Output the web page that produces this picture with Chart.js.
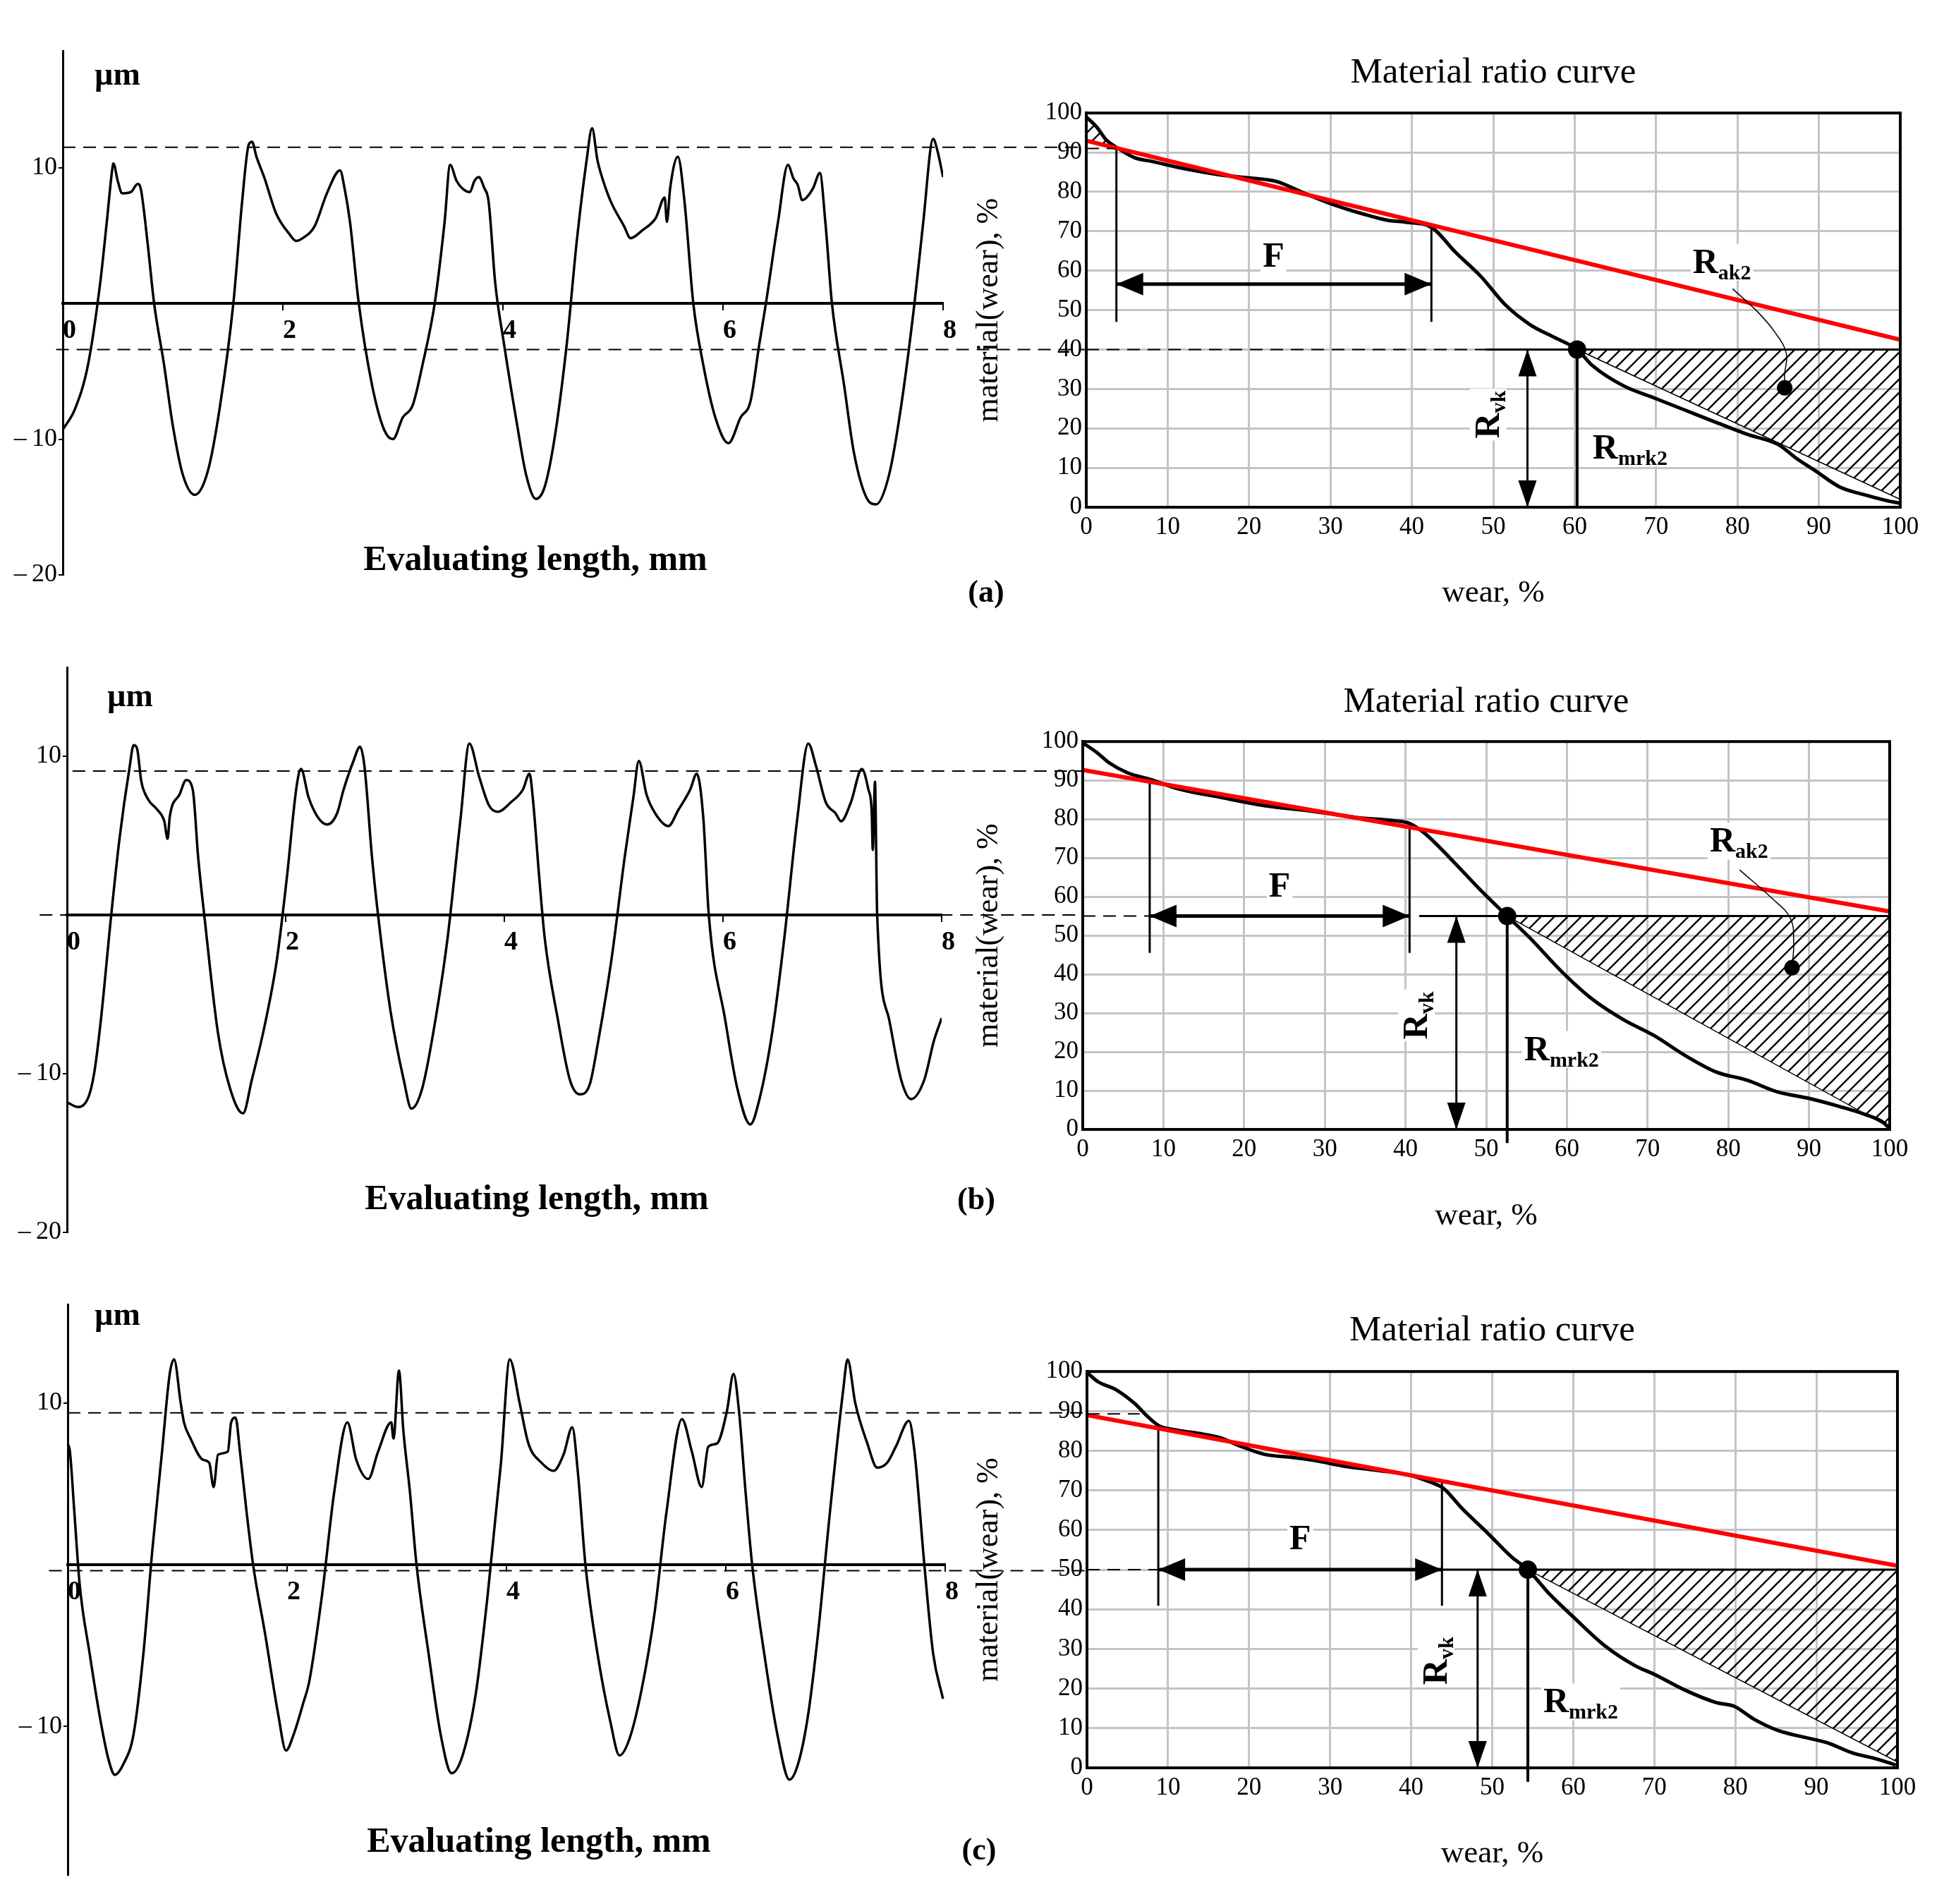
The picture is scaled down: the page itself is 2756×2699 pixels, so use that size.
<!DOCTYPE html>
<html>
<head>
<meta charset="utf-8">
<title>Profile and material ratio curves</title>
<script src="https://cdn.jsdelivr.net/npm/chart.js@4.4.1/dist/chart.umd.min.js"></script>
<style>
  html, body { margin: 0; padding: 0; background: #fff; }
  #page { position: relative; width: 2756px; height: 2699px; background: #fff; overflow: hidden; }
  #page canvas { position: absolute; }
</style>
</head>
<body>
<div id="page"></div>
<script>
// ---------- profile traces: [evaluating length mm, height µm] ----------
const profileA = [[0,-9.3],[0.11,-7.8],[0.23,-4.5],[0.34,1.5],[0.4,6],[0.45,9.9],[0.46,10.3],[0.5,9.0],[0.54,8.1],[0.62,8.2],[0.68,8.8],[0.71,8.4],[0.77,4.5],[0.83,0],[0.92,-4.5],[1.0,-9],[1.09,-12.6],[1.2,-14.1],[1.32,-12.3],[1.43,-7.5],[1.55,0],[1.63,7.5],[1.69,11.7],[1.72,11.9],[1.76,10.8],[1.83,9.3],[1.94,6.6],[2.06,5.1],[2.12,4.6],[2.18,4.8],[2.29,5.7],[2.4,8.1],[2.52,9.8],[2.56,8.5],[2.61,6],[2.69,0],[2.81,-6],[2.92,-9.3],[3.0,-10],[3.09,-8.4],[3.18,-7.5],[3.27,-4.5],[3.38,0],[3.47,6],[3.52,10.2],[3.58,9],[3.64,8.4],[3.7,8.2],[3.74,9.0],[3.78,9.3],[3.83,8.5],[3.87,7.5],[3.93,1.5],[4.01,-3],[4.13,-9],[4.21,-12.6],[4.3,-14.4],[4.38,-13.5],[4.47,-9.9],[4.58,-3],[4.67,4.5],[4.76,10.5],[4.81,12.9],[4.86,10.5],[4.9,9.3],[4.98,7.5],[5.1,5.7],[5.16,4.8],[5.27,5.4],[5.39,6.3],[5.47,7.8],[5.49,6.0],[5.52,8.5],[5.59,10.8],[5.65,7.5],[5.73,0],[5.82,-4.5],[5.93,-8.4],[6.05,-10.3],[6.16,-8.4],[6.25,-7.2],[6.33,-3],[6.39,0],[6.5,6],[6.59,10.2],[6.64,9.2],[6.68,8.7],[6.72,7.6],[6.76,7.8],[6.82,8.5],[6.88,9.6],[6.93,6],[6.99,0],[7.1,-6],[7.19,-11],[7.31,-14.4],[7.39,-14.8],[7.51,-12.6],[7.62,-7.5],[7.74,0],[7.82,6],[7.91,12.1],[7.95,11.2],[8.0,9.3]];
const profileB = [[0,-11.8],[0.1,-12.1],[0.2,-11.4],[0.25,-9.9],[0.31,-6.6],[0.4,-0.3],[0.48,4.8],[0.57,9.2],[0.61,10.7],[0.64,10.5],[0.68,8.4],[0.74,7.3],[0.83,6.6],[0.89,5.9],[0.92,4.8],[0.94,6.2],[1.03,7.6],[1.09,8.5],[1.15,7.9],[1.2,3.6],[1.26,-0.3],[1.38,-7.4],[1.49,-10.9],[1.61,-12.5],[1.69,-10.4],[1.81,-6.9],[1.92,-2.8],[2.01,2.3],[2.1,8.1],[2.14,9.2],[2.21,7.4],[2.3,6.1],[2.38,5.7],[2.47,6.4],[2.53,7.9],[2.62,9.7],[2.68,10.6],[2.72,9.4],[2.79,3.6],[2.85,-0.3],[2.96,-6.1],[3.08,-10.4],[3.15,-12.2],[3.25,-10.9],[3.37,-6.6],[3.48,-1.5],[3.6,6.1],[3.68,10.8],[3.77,8.7],[3.86,6.9],[3.94,6.5],[4.06,7.1],[4.17,7.9],[4.23,8.9],[4.26,7.4],[4.32,2.3],[4.37,-1.5],[4.49,-6.6],[4.6,-10.4],[4.69,-11.3],[4.78,-10.7],[4.86,-7.9],[4.98,-2.8],[5.1,3.6],[5.18,7.4],[5.23,9.7],[5.3,7.6],[5.38,6.4],[5.5,5.6],[5.59,6.6],[5.7,7.9],[5.76,8.9],[5.82,6.1],[5.87,0],[6.02,-6.6],[6.13,-10.9],[6.25,-13.2],[6.33,-11.7],[6.45,-7.4],[6.56,-1.5],[6.68,6.1],[6.78,10.8],[6.85,9.4],[6.94,7.1],[7.03,6.4],[7.08,5.9],[7.17,7.1],[7.27,9.2],[7.33,7.9],[7.36,6.5],[7.37,4.1],[7.39,8.4],[7.41,0],[7.52,-6.6],[7.63,-10.4],[7.72,-11.6],[7.84,-10.4],[7.93,-7.9],[8.0,-6.5]];
const profileC = [[0,7.5],[0.02,7.0],[0.06,3.3],[0.11,-1.3],[0.2,-5.5],[0.29,-9.3],[0.37,-12.0],[0.43,-13.0],[0.51,-12.3],[0.6,-10.5],[0.69,-5.5],[0.77,0.8],[0.86,7.0],[0.93,11.8],[0.97,12.7],[1.03,10],[1.06,8.8],[1.12,7.8],[1.23,6.5],[1.29,6.3],[1.33,4.8],[1.37,6.8],[1.46,7],[1.49,8.8],[1.53,9.1],[1.57,7],[1.63,3.3],[1.69,0],[1.8,-4.3],[1.92,-9.3],[1.99,-11.5],[2.06,-10.5],[2.15,-8.5],[2.2,-7.3],[2.32,-1.8],[2.43,4.5],[2.55,8.8],[2.63,6.5],[2.74,5.3],[2.83,7],[2.95,8.8],[2.97,7.8],[3.02,12],[3.06,8.3],[3.12,4.5],[3.18,0],[3.29,-5.5],[3.4,-10.5],[3.5,-12.9],[3.6,-11.8],[3.72,-8],[3.83,-1.8],[3.95,6.3],[4.03,12.7],[4.12,10],[4.2,7.5],[4.32,6.3],[4.43,5.8],[4.52,6.8],[4.6,8.5],[4.65,5.8],[4.72,0],[4.83,-5.5],[4.95,-9.8],[5.03,-11.8],[5.12,-10.8],[5.23,-7.8],[5.35,-3.0],[5.46,3.3],[5.6,9],[5.69,7],[5.78,4.8],[5.84,7.3],[5.92,7.5],[6.01,9.5],[6.07,11.8],[6.12,9.5],[6.18,4.5],[6.24,0],[6.35,-5.5],[6.47,-10.5],[6.58,-13.3],[6.66,-12.3],[6.75,-9.3],[6.84,-4.3],[6.95,3.3],[7.07,10.8],[7.11,12.7],[7.18,10],[7.29,7.5],[7.38,6],[7.47,6.3],[7.55,7.3],[7.67,8.9],[7.72,7],[7.81,0],[7.89,-5.5],[7.98,-8.3]];

const xTicksMm = [0, 2, 4, 6, 8];
const yTicksUm = [[10, -10, -20], [10, -10, -20], [10, -10]];
const yRangeUm = [[-20, 18.6], [-20, 15.6], [-19.2, 16.1]];
const upperLevelUm = [11.5, 9.07, 9.39];
const lowerLevelUm = [-3.4, 0, -0.37];
const upperDashStartMm = [0, 0.05, 0];
const lowerDashStartMm = [-0.06, -0.25, -0.17];

// ---------- material ratio curves: wear % -> material % ----------
const wearA = [0,1.3,2.4,3.7,5.9,8.1,12.7,16.5,19.6,23.4,26.4,30.2,34,37,39.3,42.4,45.4,48.5,51.5,54.6,57.6,60.3,62.2,66,69.8,73.6,77.4,81.2,85,87.3,89.6,92.6,95.7,98.7,100];
const materialA = [99,96.4,93.3,91.3,88.7,87.7,85.6,84.3,83.6,82.6,80,76.9,74.4,72.8,72.3,71,64.6,58.5,51.3,46.2,43,40,35.9,30.8,27.7,24.6,21.5,18.5,15.9,12.3,9.2,5.1,3.1,1.5,1];
const wearB = [0,1.8,3.3,5.6,8.3,11.7,17.1,22.5,28.6,34,38.6,40.5,42.4,45.5,49.3,52.6,55.5,59.3,63.2,67,70.8,74.7,78.5,82.3,86.2,90,93.8,96.9,99.2,100];
const materialB = [99.7,97.1,94.5,91.9,90.3,87.9,85.6,83.5,82,80.4,79.6,78.9,76.3,70,61.7,55,49.2,40.8,33.5,28.3,24.2,19,14.8,12.7,9.6,8,5.9,3.9,1.8,0.2];
const wearC = [0,1.3,3.6,5.9,7.4,8.9,11.2,14.3,16.6,18.9,21.9,25,28,31.8,35.6,39.5,42.5,44,46.3,49.4,52.4,54.4,57,60.1,63.9,67.7,70,73.8,77.6,79.9,82.2,85.3,88.3,91.4,94.4,97.5,99.8];
const materialC = [99.8,97.5,95.4,91.9,88.8,86.3,85.2,84.2,83.2,81.2,79.1,78.4,77.6,76.1,75.1,74.0,72.0,70.5,65.4,59.3,53.2,50,44,37.9,30.8,25.7,23.6,19.6,16.5,15.5,12.4,9.4,7.8,6.3,3.8,2.2,0.7];

const rakLine = [[93, 42.5], [92.7, 56.2], [89, 51]];     // red line at wear 0 and 100
const levelPct = [40, 55, 50];
const upperPct = [91, 92.4, 89.3];
const upperDashEnd = [3.7, 0, 6.5];
const lowerDashEnd = [49, 8.3, 8.8];
const solidStart = [49, 41.7, 43.5];
const rmrk2 = [60.3, 52.6, 54.4];
const rmrkFoot = [0, -3.5, -3.5];
const fLeft = [3.7, 8.3, 8.8];
const fRight = [42.4, 40.5, 43.8];
const fLeftTop = [91.3, 90.3, 86.3];
const fRightTop = [70.8, 79, 72.7];
const fFoot = [47, 45.5, 40.9];
const fArrowY = [56.6, 55, 50];
const rvkX = [54.2, 46.3, 48.2];
const hatchArea = [
  [[60.3,40],[100,40],[100,2],[60.3,40]],
  [[52.6,55],[100,55],[100,0.5],[52.6,55]],
  [[54.4,50],[100,50],[100,1.5],[54.4,50]]
];
const hatchCap = [[[0,99],[1.3,96.4],[2.4,93.3],[3.7,91.3],[0,93],[0,99]], null, null];
const rakLeader = [
  [[79.4,55.4],[82.5,49.5],[84.7,44.1],[86.0,39.0],[85.8,33.8],[85.8,30.3]],
  [[81.4,66.9],[85.4,59.6],[87.7,54.4],[88.1,48.1],[87.9,41.7]],
  null
];
const fLabel = [[23, 64], [24.4, 63.2], [26.3, 58.2]];
const rvkLabel = [[49.2, 23.5], [41.2, 29.4], [42.9, 27]];
const rmrkLabel = [[62.2, 15.4], [54.7, 21], [56.3, 17]];
const rakLabel = [[74.5, 62.5], [77.7, 74.7], null];
const rowTags = ['(a)', '(b)', '(c)'];

// ---------- page geometry ----------
const FONT = '"Liberation Serif", "Times New Roman", serif';
const rowTop = [0, 900, 1800];
const rowH = [900, 900, 899];
const leftW = [1540, 1535, 1541];
const leftBox = [[89, 1337, 72, 815], [95, 1335, 46, 847], [96, 1340, 49, 858]];
const rightX = 1330, rightW = 1426;
const rightBox = [[210, 1364, 159, 719], [205, 1349, 150, 701], [211, 1360, 143, 706]];
const titleY = [103, 95, 86];
const xTitleY = [841, 824, 828];
const evalY = [795, 801, 812];
const tagPos = [[1398, 842], [1384, 803], [1388, 825]];
const muPos = [[134, 108], [152, 89], [134, 66]];

Chart.defaults.font.family = FONT;
Chart.defaults.color = '#000';

const profiles = [profileA, profileB, profileC];
const wearCurves = [wearA, wearB, wearC];
const materialCurves = [materialA, materialB, materialC];

function addCanvas(x, y, w, h) {
  const c = document.createElement('canvas');
  c.width = w; c.height = h;
  c.style.left = x + 'px'; c.style.top = y + 'px';
  c.style.width = w + 'px'; c.style.height = h + 'px';
  document.getElementById('page').appendChild(c);
  return c;
}

function hatchPattern() {
  const s = 19, c = document.createElement('canvas');
  c.width = s; c.height = s;
  const g = c.getContext('2d');
  g.strokeStyle = '#000'; g.lineWidth = 2.4;
  g.beginPath();
  g.moveTo(-1, s + 1); g.lineTo(s + 1, -1);
  g.moveTo(-s / 2, s / 2); g.lineTo(s / 2, -s / 2);
  g.moveTo(s / 2, s * 1.5); g.lineTo(s * 1.5, s / 2);
  g.stroke();
  return g.createPattern(c, 'repeat');
}

function dashed(ctx, x1, x2, y) {
  if (x2 <= x1) return;
  ctx.beginPath(); ctx.moveTo(x1, y); ctx.lineTo(x2, y); ctx.stroke();
}

function arrowHead(ctx, tx, ty, dx, dy, len, half) {
  const bx = tx - dx * len, by = ty - dy * len;
  ctx.beginPath();
  ctx.moveTo(tx, ty);
  ctx.lineTo(bx - dy * half, by + dx * half);
  ctx.lineTo(bx + dy * half, by - dx * half);
  ctx.closePath();
  ctx.fill();
}

// R with subscript; mode: 'left' | 'center' | 'rotated'
function rLabel(ctx, main, sub, x, y, mode) {
  ctx.save();
  ctx.translate(x, y);
  if (mode === 'rotated') ctx.rotate(-Math.PI / 2);
  ctx.font = 'bold 50px ' + FONT;
  const w1 = ctx.measureText(main).width;
  ctx.font = 'bold 30px ' + FONT;
  const w2 = sub ? ctx.measureText(sub).width : 0;
  const start = mode === 'left' ? 0 : -(w1 + w2) / 2;
  ctx.fillStyle = '#fff';
  ctx.fillRect(start - 3, -24, w1 + w2 + 6, 52);
  ctx.fillStyle = '#000';
  ctx.textAlign = 'left';
  ctx.textBaseline = 'alphabetic';
  ctx.font = 'bold 50px ' + FONT;
  ctx.fillText(main, start, 17);
  if (sub) {
    ctx.font = 'bold 30px ' + FONT;
    ctx.fillText(sub, start + w1, 26);
  }
  ctx.restore();
}

const profileDecor = {
  id: 'profileDecor',
  afterDatasetsDraw(chart, args, o) {
    const i = o.row;
    const { ctx, chartArea: a, scales: { x, y } } = chart;
    ctx.save();
    ctx.strokeStyle = '#000';
    ctx.lineWidth = 2;
    ctx.setLineDash([18, 11]);
    dashed(ctx, x.getPixelForValue(upperDashStartMm[i]), chart.width, y.getPixelForValue(upperLevelUm[i]));
    dashed(ctx, x.getPixelForValue(lowerDashStartMm[i]), chart.width, y.getPixelForValue(lowerLevelUm[i]));
    ctx.setLineDash([]);
    ctx.fillStyle = '#000';
    ctx.textBaseline = 'middle';
    ctx.textAlign = 'left';
    ctx.font = 'bold 46px ' + FONT;
    ctx.fillText('\u00b5m', muPos[i][0], muPos[i][1]);
    ctx.textAlign = 'center';
    ctx.font = 'bold 50px ' + FONT;
    ctx.fillText('Evaluating length, mm', (a.left + a.right) / 2 + 46, evalY[i]);
    ctx.font = 'bold 44px ' + FONT;
    ctx.fillText(rowTags[i], tagPos[i][0], tagPos[i][1]);
    ctx.restore();
  }
};

const ratioDecor = {
  id: 'ratioDecor',
  afterDatasetsDraw(chart, args, o) {
    const i = o.row;
    const { ctx, chartArea: a, scales: { x, y } } = chart;
    const px = v => x.getPixelForValue(v);
    const py = v => y.getPixelForValue(v);
    ctx.save();
    ctx.strokeStyle = '#000';
    ctx.fillStyle = '#000';
    ctx.lineWidth = 4;
    ctx.strokeRect(a.left, a.top, a.right - a.left, a.bottom - a.top);
    ctx.lineWidth = 2;
    ctx.setLineDash([18, 11]);
    dashed(ctx, a.left, px(upperDashEnd[i]), py(upperPct[i]));
    dashed(ctx, a.left, px(lowerDashEnd[i]), py(levelPct[i]));
    ctx.setLineDash([]);
    // F arrow heads
    arrowHead(ctx, px(fLeft[i]), py(fArrowY[i]), -1, 0, 38, 16);
    arrowHead(ctx, px(fRight[i]), py(fArrowY[i]), 1, 0, 38, 16);
    // Rvk arrow heads
    arrowHead(ctx, px(rvkX[i]), py(levelPct[i]), 0, -1, 38, 13);
    arrowHead(ctx, px(rvkX[i]), py(0), 0, 1, 38, 13);
    // labels
    rLabel(ctx, 'F', '', px(fLabel[i][0]), py(fLabel[i][1]), 'center');
    rLabel(ctx, 'R', 'vk', px(rvkLabel[i][0]), py(rvkLabel[i][1]), 'rotated');
    rLabel(ctx, 'R', 'mrk2', px(rmrkLabel[i][0]), py(rmrkLabel[i][1]), 'left');
    if (rakLabel[i]) rLabel(ctx, 'R', 'ak2', px(rakLabel[i][0]), py(rakLabel[i][1]), 'left');
    ctx.restore();
  }
};

const common = {
  responsive: false,
  animation: false,
  devicePixelRatio: 1,
  events: []
};

function profileChart(i) {
  const b = leftBox[i];
  const canvas = addCanvas(0, rowTop[i], leftW[i], rowH[i]);
  return new Chart(canvas, {
    type: 'line',
    data: {
      datasets: [{
        data: profiles[i].map(p => ({ x: p[0], y: p[1] })),
        borderColor: '#000',
        borderWidth: 3.5,
        pointRadius: 0,
        cubicInterpolationMode: 'monotone'
      }]
    },
    options: Object.assign({}, common, {
      layout: { padding: { left: 0, right: leftW[i] - b[1], top: b[2], bottom: rowH[i] - b[3] } },
      plugins: { legend: { display: false }, tooltip: { enabled: false }, profileDecor: { row: i } },
      scales: {
        x: {
          type: 'linear', min: 0, max: 8, position: { y: 0 },
          afterBuildTicks: s => { s.ticks = xTicksMm.map(v => ({ value: v })); },
          ticks: { autoSkip: false, maxRotation: 0, align: 'start', padding: 8, font: { size: 38, weight: 'bold' }, color: '#000' },
          grid: { drawOnChartArea: false, drawTicks: true, tickLength: 8, color: '#000', lineWidth: 2 },
          border: { color: '#000', width: 4 }
        },
        y: {
          type: 'linear', min: yRangeUm[i][0], max: yRangeUm[i][1],
          afterBuildTicks: s => { s.ticks = yTicksUm[i].map(v => ({ value: v })); },
          afterFit: s => { s.width = b[0]; },
          ticks: { autoSkip: false, padding: 2, font: { size: 36 }, color: '#000',
            callback: v => v < 0 ? '\u2013\u2009' + (-v) : String(v) },
          grid: { drawOnChartArea: false, drawTicks: true, tickLength: 6, color: '#000', lineWidth: 2 },
          border: { color: '#000', width: 3 }
        }
      }
    }),
    plugins: [profileDecor]
  });
}

function seg(x1, y1, x2, y2) { return [{ x: x1, y: y1 }, { x: x2, y: y2 }]; }
function pts(arr) { return arr.map(p => ({ x: p[0], y: p[1] })); }
function construction(data, w, extra) {
  return Object.assign({ data, borderColor: '#000', borderWidth: w, pointRadius: 0, tension: 0, fill: false, order: 3 }, extra || {});
}

function ratioChart(i, hatch) {
  const b = rightBox[i];
  const canvas = addCanvas(rightX, rowTop[i], rightW, rowH[i]);
  const datasets = [];
  datasets.push({ data: [{ x: rmrk2[i], y: levelPct[i] }], showLine: false, pointRadius: 13, pointBackgroundColor: '#000', pointBorderWidth: 0, order: 0 });
  if (rakLeader[i]) {
    datasets.push({
      data: pts(rakLeader[i]), borderColor: '#000', borderWidth: 1.5, tension: 0.4,
      pointRadius: rakLeader[i].map((p, k) => k === rakLeader[i].length - 1 ? 11 : 0),
      pointBackgroundColor: '#000', pointBorderWidth: 0, order: 0
    });
  }
  datasets.push({ data: seg(0, rakLine[i][0], 100, rakLine[i][1]), borderColor: '#ff0000', borderWidth: 6, pointRadius: 0, order: 1 });
  datasets.push({ data: wearCurves[i].map((w, k) => ({ x: w, y: materialCurves[i][k] })), borderColor: '#000', borderWidth: 5, pointRadius: 0, cubicInterpolationMode: 'monotone', order: 2 });
  datasets.push(construction(seg(fLeft[i], fLeftTop[i], fLeft[i], fFoot[i]), 3));
  datasets.push(construction(seg(fRight[i], fRightTop[i], fRight[i], fFoot[i]), 3));
  datasets.push(construction(seg(fLeft[i], fArrowY[i], fRight[i], fArrowY[i]), 5));
  datasets.push(construction(seg(rvkX[i], levelPct[i], rvkX[i], 0), 3));
  datasets.push(construction(seg(rmrk2[i], levelPct[i], rmrk2[i], rmrkFoot[i]), 4, { clip: false }));
  datasets.push(construction(seg(solidStart[i], levelPct[i], 100, levelPct[i]), 3));
  datasets.push({ data: pts(hatchArea[i]), fill: 'shape', backgroundColor: hatch, borderColor: '#000', borderWidth: 1.5, pointRadius: 0, tension: 0, order: 5 });
  if (hatchCap[i]) {
    datasets.push({ data: pts(hatchCap[i]), fill: 'shape', backgroundColor: hatch, borderWidth: 0, pointRadius: 0, tension: 0, order: 5 });
  }

  return new Chart(canvas, {
    type: 'line',
    data: { datasets },
    options: Object.assign({}, common, {
      layout: { padding: { left: 0, right: rightW - b[1], top: 0, bottom: 0 } },
      plugins: {
        legend: { display: false },
        tooltip: { enabled: false },
        title: {
          display: true, text: 'Material ratio curve', fullSize: false, color: '#000',
          font: { size: 51, weight: 'normal' },
          padding: { top: titleY[i] - 30, bottom: b[2] - titleY[i] - 30 }
        },
        ratioDecor: { row: i }
      },
      scales: {
        x: {
          type: 'linear', min: 0, max: 100,
          ticks: { stepSize: 10, autoSkip: false, maxRotation: 0, padding: 8, font: { size: 35 }, color: '#000' },
          grid: { color: '#c4c4c4', lineWidth: 3, drawTicks: false },
          border: { color: '#000', width: 4 },
          title: { display: true, text: 'wear, %', color: '#000', font: { size: 45 }, padding: { top: 0, bottom: rowH[i] - xTitleY[i] - 27 } },
          afterFit: s => { s.height = rowH[i] - b[3]; }
        },
        y: {
          type: 'linear', min: 0, max: 100,
          ticks: { stepSize: 10, autoSkip: false, padding: 6, font: { size: 35 }, color: '#000' },
          grid: { color: '#c4c4c4', lineWidth: 3, drawTicks: false },
          border: { color: '#000', width: 4 },
          title: { display: true, text: 'material(wear), %', color: '#000', font: { size: 44 }, padding: { top: 46, bottom: 0 } },
          afterFit: s => { s.width = b[0]; }
        }
      }
    }),
    plugins: [ratioDecor]
  });
}

const hatch = hatchPattern();
for (let i = 0; i < 3; i++) {
  profileChart(i);
  ratioChart(i, hatch);
}
</script>
</body>
</html>
